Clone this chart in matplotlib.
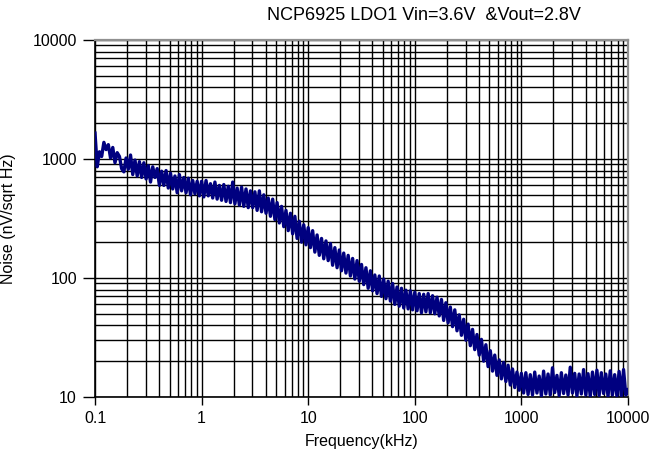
import numpy as np
import matplotlib
matplotlib.use("Agg")
import matplotlib.pyplot as plt
from matplotlib.ticker import LogLocator, FixedLocator, FixedFormatter, NullFormatter

plt.rcParams['font.family'] = ['Liberation Sans', 'DejaVu Sans']

title = "NCP6925 LDO1 Vin=3.6V  &Vout=2.8V"
x_label = "Frequency(kHz)"
y_label = "Noise (nV/sqrt Hz)"
x_ticks = [0.1, 1, 10, 100, 1000, 10000]
x_tick_labels = ["0.1", "1", "10", "100", "1000", "10000"]
y_ticks = [10, 100, 1000, 10000]
y_tick_labels = ["10", "100", "1000", "10000"]

# measurement grid: 48 points per decade from 0.1 kHz to 10 MHz
freq_khz = np.logspace(-1, 4, 241)

# noise values (nV/sqrt Hz), decade by decade
noise_0p1_1 = [1650, 860, 1150, 1050, 1380, 1200, 1320, 1020, 1250, 930, 1130, 1050,
               830, 780, 1020, 820, 1080, 740, 980, 720, 950, 700, 930, 680,
               880, 640, 860, 700, 830, 600, 790, 600, 800, 570, 760, 560,
               720, 520, 740, 540, 700, 520, 690, 500, 660, 510, 650, 490]
noise_1_10 = [650, 480, 660, 490, 620, 470, 640, 460, 600, 450, 610, 440,
              590, 430, 640, 420, 570, 410, 580, 400, 560, 390, 540, 390,
              530, 370, 540, 360, 500, 350, 470, 330, 460, 310, 430, 290,
              400, 270, 370, 250, 350, 235, 330, 215, 300, 200, 280, 190]
noise_10_100 = [265, 180, 250, 165, 230, 155, 215, 145, 205, 140, 195, 128,
                180, 122, 172, 115, 162, 110, 155, 104, 146, 98, 140, 94,
                130, 88, 122, 82, 115, 78, 106, 74, 104, 70, 98, 67,
                94, 64, 90, 60, 84, 58, 82, 56, 79, 55, 78, 54]
noise_100_1000 = [76, 53, 74, 51, 73, 52, 74, 51, 71, 50, 69, 48,
                  66, 44, 62, 42, 57, 39, 54, 36, 49, 33, 45, 30,
                  41, 27, 37, 25, 33.5, 22.5, 30.5, 20, 27.5, 18, 24.5, 16.5,
                  22.5, 15.2, 20.5, 14.2, 19.5, 13.5, 18.5, 12.6, 17.2, 12.0, 16.2, 11.4]
noise_1000_10000 = [15.8, 10.8, 16.0, 10.5, 15.4, 10.4, 16.2, 10.8, 15.0, 10.2, 16.5, 10.6,
                    15.6, 10.4, 17.6, 10.9, 15.2, 10.3, 16.0, 10.7, 15.3, 10.4, 17.8, 10.8,
                    15.8, 10.2, 15.6, 10.6, 17.0, 10.4, 15.7, 10.1, 16.2, 10.5, 16.8, 10.3,
                    16.0, 10.7, 15.6, 10.1, 16.6, 10.4, 15.4, 10.2, 16.4, 10.2, 17.0, 10.4, 11.5]

noise = np.array(noise_0p1_1 + noise_1_10 + noise_10_100 + noise_100_1000 + noise_1000_10000)

fig = plt.figure(figsize=(6.55, 4.55), dpi=100)
ax = fig.add_axes([95/655, 1-397/455, (628-95)/655, (397-40)/455])

ax.plot(freq_khz, noise, color='#000080', lw=2.4, zorder=3)

ax.set_xscale('log')
ax.set_yscale('log')
ax.set_xlim(0.1, 10000)
ax.set_ylim(10, 10000)

ax.xaxis.set_major_locator(FixedLocator(x_ticks))
ax.xaxis.set_major_formatter(FixedFormatter(x_tick_labels))
ax.yaxis.set_major_locator(FixedLocator(y_ticks))
ax.yaxis.set_major_formatter(FixedFormatter(y_tick_labels))
ax.xaxis.set_minor_locator(LogLocator(base=10, subs=np.arange(2, 10), numticks=20))
ax.yaxis.set_minor_locator(LogLocator(base=10, subs=np.arange(2, 10), numticks=20))
ax.xaxis.set_minor_formatter(NullFormatter())
ax.yaxis.set_minor_formatter(NullFormatter())

ax.grid(True, which='both', color='black', lw=1.0, zorder=1)
ax.tick_params(which='major', direction='out', length=6, width=1, labelsize=11.5,
               colors='black', pad=4)
ax.tick_params(which='minor', length=0)
ax.tick_params(axis='y', which='major', length=9)

for s in ['left', 'bottom']:
    ax.spines[s].set_color('black')
    ax.spines[s].set_linewidth(1.2)
for s in ['top', 'right']:
    ax.spines[s].set_color('#909090')
    ax.spines[s].set_linewidth(1.6)

ax.set_xlabel(x_label, fontsize=11.5, labelpad=6)
ax.set_ylabel(y_label, fontsize=11.5, labelpad=12)
fig.text(424/655, 1-16/455, title, fontsize=13, ha='center', va='center')

fig.savefig("out.png", dpi=100)
